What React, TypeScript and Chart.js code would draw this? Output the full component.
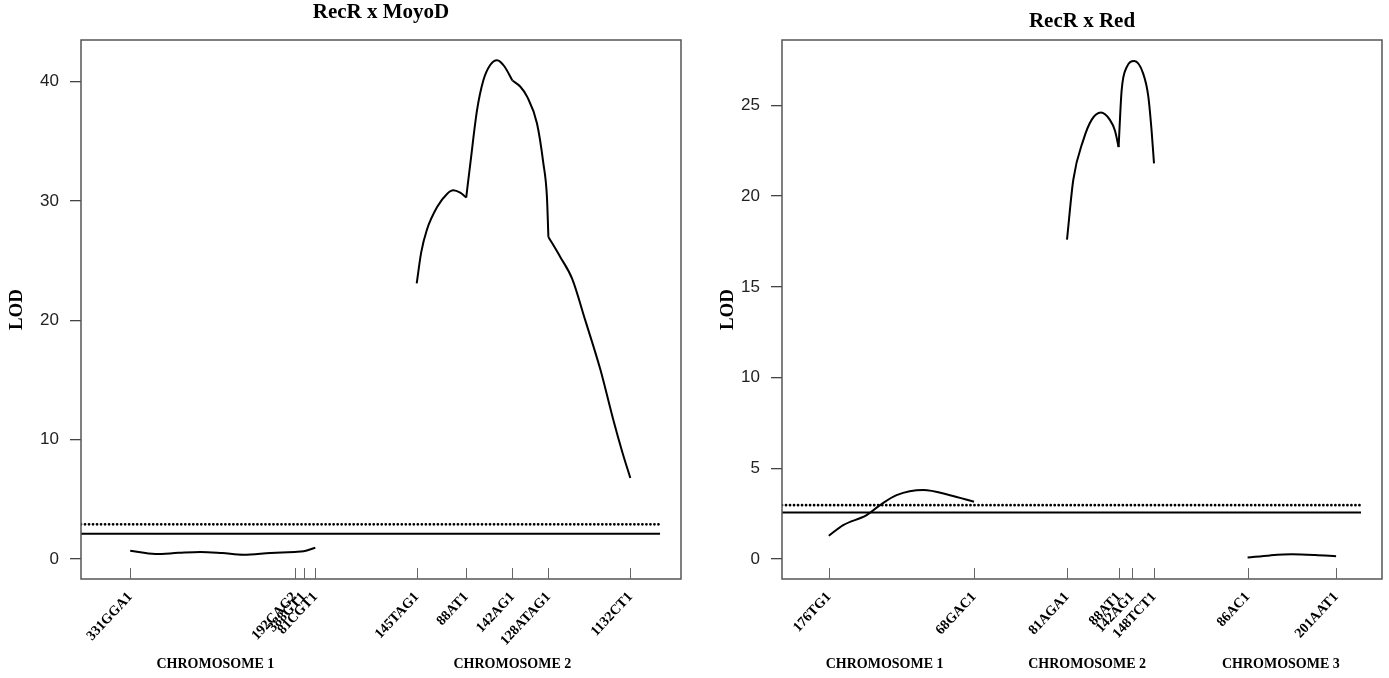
import React, { useEffect, useRef } from "react";
import { Chart, registerables } from "chart.js";

Chart.register(...registerables);

// ---------- Panel 1 : RecR x MoyoD ----------
const leftTitle = "RecR x MoyoD";
const leftMarkers = ["331GGA1", "192CAG2", "388GT1", "81CGT1", "145TAG1", "88AT1", "142AG1", "128ATAG1", "1132CT1"];
const leftMarkerPos = [16.4, 71.2, 74.2, 78.1, 111.9, 128.4, 143.8, 155.8, 183.1];
const leftChromLabels = ["CHROMOSOME 1", "CHROMOSOME 2"];
const leftChromPos = [44.8, 143.8];
const leftYTicks = [0, 10, 20, 30, 40];
const leftYRange = [-1.67, 43.5];
const leftThresholdDotted = 2.91;
const leftThresholdSolid = 2.12;

const leftChr1X = [16.4, 24.8, 32.4, 39.8, 47.1, 54.1, 63.1, 71.2, 74.2, 78.1];
const leftChr1Y = [0.7, 0.42, 0.52, 0.6, 0.5, 0.36, 0.5, 0.6, 0.65, 0.95];
const leftChr2aX = [111.9, 113.4, 115.3, 118.7, 122.0, 124.1, 126.4, 128.4];
const leftChr2aY = [23.1, 25.7, 27.6, 29.5, 30.6, 30.9, 30.7, 30.3];
const leftChr2bX = [128.4, 129.8, 132.0, 134.1, 136.4, 138.7, 141.1, 143.8];
const leftChr2bY = [30.3, 33.2, 37.6, 40.1, 41.4, 41.8, 41.3, 40.1];
const leftChr2cX = [143.8, 146.4, 148.7, 152.0, 154.1, 155.3, 155.8];
const leftChr2cY = [40.1, 39.6, 38.75, 36.5, 33.2, 30.4, 27.0];
const leftChr2dX = [155.8, 159.8, 163.7, 168.1, 173.1, 177.4, 180.4, 183.1];
const leftChr2dY = [27.0, 25.3, 23.5, 20.0, 15.9, 11.7, 9.0, 6.8];

// ---------- Panel 2 : RecR x Red ----------
const rightTitle = "RecR x Red";
const rightMarkers = ["176TG1", "68GAC1", "81AGA1", "88AT1", "142AG1", "148TCT1", "86AC1", "201AAT1"];
const rightMarkerPos = [15.6, 64.0, 95.0, 112.2, 116.7, 124.0, 155.2, 184.7];
const rightChromLabels = ["CHROMOSOME 1", "CHROMOSOME 2", "CHROMOSOME 3"];
const rightChromPos = [34.2, 101.7, 166.3];
const rightYTicks = [0, 5, 10, 15, 20, 25];
const rightYRange = [-1.1, 28.6];
const rightThresholdDotted = 2.97;
const rightThresholdSolid = 2.57;

const rightChr1X = [15.6, 20.4, 28.2, 32.7, 38.2, 47.1, 56.0, 64.0];
const rightChr1Y = [1.28, 1.87, 2.42, 2.97, 3.52, 3.8, 3.52, 3.16];
const rightChr2aX = [95.0, 97.1, 100.4, 103.2, 106.3, 109.3, 111.0, 112.2];
const rightChr2aY = [17.6, 20.9, 23.07, 24.2, 24.6, 24.2, 23.6, 22.7];
const rightChr2bX = [112.2, 113.2, 114.9, 117.4, 120.4, 122.1, 123.2, 124.0];
const rightChr2bY = [22.7, 25.8, 27.1, 27.44, 26.75, 25.5, 23.6, 21.8];
const rightChr3X = [155.2, 162.7, 170.0, 177.7, 184.7];
const rightChr3Y = [0.08, 0.2, 0.26, 0.22, 0.15];

const thresholdXRange = [0, 193];
const xRange = [0, 200];

type PanelSpec = {
  title: string;
  titleY: number;
  markers: string[];
  markerPos: number[];
  chromLabels: string[];
  chromPos: number[];
  yTicks: number[];
  yRange: number[];
  dotted: number;
  solid: number;
  curves: { xs: number[]; ys: number[] }[];
  yAxisWidth: number;
  rightPad: number;
  lodX: number;
};

const pts = (xs: number[], ys: number[]) => xs.map((x, i) => ({ x, y: ys[i] }));

function makeDecor(p: PanelSpec) {
  return {
    id: "decor",
    afterDraw(chart: any) {
      const { ctx, chartArea: a, scales } = chart;
      const xs = scales.x;
      ctx.save();
      ctx.strokeStyle = "#555";
      ctx.lineWidth = 1.5;
      ctx.strokeRect(a.left, a.top, a.right - a.left, a.bottom - a.top);
      ctx.lineWidth = 1;
      ctx.strokeStyle = "#666";
      p.markerPos.forEach((v) => {
        const px = Math.round(xs.getPixelForValue(v)) + 0.5;
        ctx.beginPath();
        ctx.moveTo(px, a.bottom);
        ctx.lineTo(px, a.bottom - 11);
        ctx.stroke();
      });
      ctx.fillStyle = "#000";
      ctx.textAlign = "center";
      ctx.textBaseline = "middle";
      ctx.font = "bold 14px 'Liberation Serif'";
      p.chromLabels.forEach((t, i) => ctx.fillText(t, xs.getPixelForValue(p.chromPos[i]), 664));
      ctx.font = "bold 21px 'Liberation Serif'";
      ctx.fillText(p.title, (a.left + a.right) / 2, p.titleY);
      ctx.save();
      ctx.translate(p.lodX, (a.top + a.bottom) / 2);
      ctx.rotate(-Math.PI / 2);
      ctx.font = "bold 19px 'Liberation Serif'";
      ctx.fillText("LOD", 0, 0);
      ctx.restore();
      ctx.restore();
    },
  };
}

function makeConfig(p: PanelSpec): any {
  const curveSets = p.curves.map((c) => ({
    data: pts(c.xs, c.ys),
    borderColor: "#000",
    borderWidth: 2,
    pointRadius: 0,
    fill: false,
    cubicInterpolationMode: "monotone",
  }));
  const thr = [
    {
      data: pts(thresholdXRange, [p.dotted, p.dotted]),
      borderColor: "#000",
      borderWidth: 2.8,
      borderDash: [0.01, 4],
      borderCapStyle: "round",
      pointRadius: 0,
      fill: false,
    },
    {
      data: pts(thresholdXRange, [p.solid, p.solid]),
      borderColor: "#000",
      borderWidth: 2,
      pointRadius: 0,
      fill: false,
    },
  ];
  return {
    type: "line",
    data: { datasets: [...curveSets, ...thr] },
    options: {
      responsive: false,
      animation: false,
      devicePixelRatio: 1,
      layout: { padding: { top: 40, right: p.rightPad, left: 0, bottom: 0 } },
      plugins: {
        legend: { display: false },
        tooltip: { enabled: false },
        title: { display: false },
      },
      scales: {
        x: {
          type: "linear",
          min: xRange[0],
          max: xRange[1],
          position: "bottom",
          afterBuildTicks: (s: any) => {
            s.ticks = p.markerPos.map((v) => ({ value: v }));
          },
          afterFit: (s: any) => {
            s.height = 99;
          },
          grid: { display: false, drawTicks: false },
          border: { display: false },
          ticks: {
            autoSkip: false,
            minRotation: 47,
            maxRotation: 47,
            padding: 10,
            color: "#000",
            font: { family: "'Liberation Serif'", size: 14, weight: "bold" },
            callback: (_v: any, i: number) => p.markers[i],
          },
        },
        y: {
          min: p.yRange[0],
          max: p.yRange[1],
          afterBuildTicks: (s: any) => {
            s.ticks = p.yTicks.map((v) => ({ value: v }));
          },
          afterFit: (s: any) => {
            s.width = p.yAxisWidth;
          },
          grid: { drawOnChartArea: false, drawTicks: true, tickLength: 11, color: "#444", lineWidth: 1.3 },
          border: { display: false },
          ticks: {
            padding: 11,
            color: "#222",
            font: { family: "'Liberation Sans'", size: 17 },
            callback: (v: any) => String(v),
          },
        },
      },
    },
    plugins: [makeDecor(p)],
  };
}

const leftSpec: PanelSpec = {
  title: leftTitle,
  titleY: 13,
  markers: leftMarkers,
  markerPos: leftMarkerPos,
  chromLabels: leftChromLabels,
  chromPos: leftChromPos,
  yTicks: leftYTicks,
  yRange: leftYRange,
  dotted: leftThresholdDotted,
  solid: leftThresholdSolid,
  curves: [
    { xs: leftChr1X, ys: leftChr1Y },
    { xs: leftChr2aX, ys: leftChr2aY },
    { xs: leftChr2bX, ys: leftChr2bY },
    { xs: leftChr2cX, ys: leftChr2cY },
    { xs: leftChr2dX, ys: leftChr2dY },
  ],
  yAxisWidth: 81,
  rightPad: 19,
  lodX: 17,
};

const rightSpec: PanelSpec = {
  title: rightTitle,
  titleY: 22,
  markers: rightMarkers,
  markerPos: rightMarkerPos,
  chromLabels: rightChromLabels,
  chromPos: rightChromPos,
  yTicks: rightYTicks,
  yRange: rightYRange,
  dotted: rightThresholdDotted,
  solid: rightThresholdSolid,
  curves: [
    { xs: rightChr1X, ys: rightChr1Y },
    { xs: rightChr2aX, ys: rightChr2aY },
    { xs: rightChr2bX, ys: rightChr2bY },
    { xs: rightChr3X, ys: rightChr3Y },
  ],
  yAxisWidth: 82,
  rightPad: 7,
  lodX: 28,
};

function Panel({ spec, left, width }: { spec: PanelSpec; left: number; width: number }) {
  const ref = useRef<HTMLCanvasElement | null>(null);
  useEffect(() => {
    if (!ref.current) return;
    const chart = new Chart(ref.current, makeConfig(spec));
    return () => chart.destroy();
  }, [spec]);
  return (
    <canvas
      ref={ref}
      width={width}
      height={678}
      style={{ position: "absolute", left, top: 0, width, height: 678 }}
    />
  );
}

export default function App() {
  return (
    <div style={{ position: "absolute", left: 0, top: 0, width: 1389, height: 678, background: "#fff", overflow: "hidden" }}>
      <Panel spec={leftSpec} left={0} width={700} />
      <Panel spec={rightSpec} left={700} width={689} />
    </div>
  );
}
